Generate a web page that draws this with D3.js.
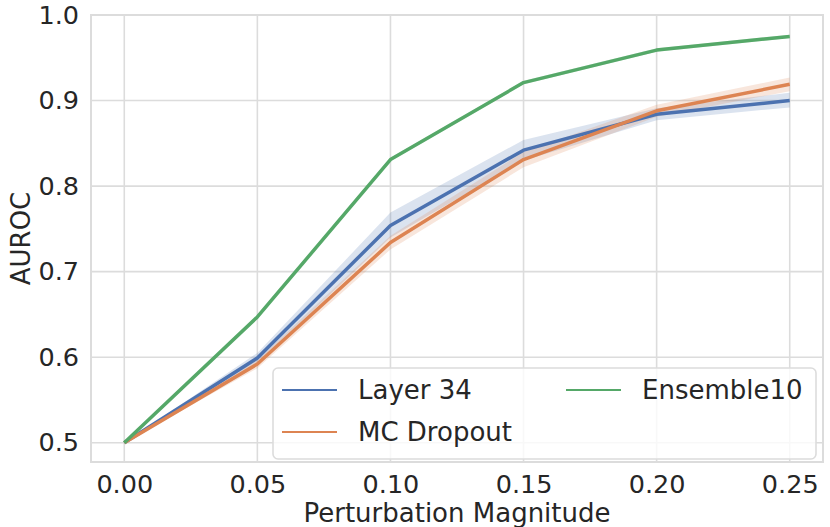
<!DOCTYPE html>
<html>
<head>
<meta charset="utf-8">
<script src="https://cdn.jsdelivr.net/npm/d3@7"></script>
<style>
  body { margin: 0; background: #fff; }
  svg text { font-family: "DejaVu Sans", sans-serif; fill: #262626; }
</style>
</head>
<body>
<div id="chart"></div>
<script>
// perturbation magnitudes on the x axis
const magnitudes = [0.00, 0.05, 0.10, 0.15, 0.20, 0.25];

// mean AUROC per method, with lower / upper band
const layer34 = [0.500, 0.599, 0.754, 0.842, 0.884, 0.900];
const layer34Lo = [0.500, 0.593, 0.740, 0.830, 0.877, 0.892];
const layer34Hi = [0.500, 0.605, 0.769, 0.854, 0.891, 0.909];

const mcDropout = [0.500, 0.592, 0.734, 0.831, 0.888, 0.919];
const mcDropoutLo = [0.500, 0.587, 0.726, 0.822, 0.881, 0.911];
const mcDropoutHi = [0.500, 0.597, 0.742, 0.840, 0.895, 0.927];

const ensemble10 = [0.500, 0.647, 0.831, 0.921, 0.959, 0.975];
const ensemble10Lo = [0.500, 0.645, 0.829, 0.919, 0.957, 0.973];
const ensemble10Hi = [0.500, 0.649, 0.833, 0.923, 0.961, 0.977];

const seriesNames = ["Layer 34", "MC Dropout", "Ensemble10"];
const seriesColors = ["#4C72B0", "#DD8452", "#55A868"];

const xTicks = [0.00, 0.05, 0.10, 0.15, 0.20, 0.25];
const yTicks = [0.5, 0.6, 0.7, 0.8, 0.9, 1.0];

const series = [
	{name: seriesNames[0], color: seriesColors[0], mean: layer34, lo: layer34Lo, hi: layer34Hi},
	{name: seriesNames[1], color: seriesColors[1], mean: mcDropout, lo: mcDropoutLo, hi: mcDropoutHi},
	{name: seriesNames[2], color: seriesColors[2], mean: ensemble10, lo: ensemble10Lo, hi: ensemble10Hi}
];

const W = 830, H = 527;
const margin = {top: 15, right: 7, bottom: 65, left: 91};
const width = W - margin.left - margin.right,
		height = H - margin.top - margin.bottom;

const svg = d3.select("#chart")
	.append("svg")
		.attr("width", W)
		.attr("height", H);

const g = svg.append("g")
	.attr("transform", `translate(${margin.left},${margin.top})`);

// X scale with matplotlib-style 5% padding
const x = d3.scaleLinear()
	.domain([-0.0125, 0.2625])
	.range([0, width]);

const y = d3.scaleLinear()
	.domain([0.4775, 1.0])
	.range([height, 0]);

const gridColor = "#dcdcdc";

// grid
g.append("g")
	.selectAll("line")
	.data(xTicks)
	.join("line")
		.attr("x1", d => x(d)).attr("x2", d => x(d))
		.attr("y1", 0).attr("y2", height)
		.attr("stroke", gridColor)
		.attr("stroke-width", 1.6);

g.append("g")
	.selectAll("line")
	.data(yTicks)
	.join("line")
		.attr("x1", 0).attr("x2", width)
		.attr("y1", d => y(d)).attr("y2", d => y(d))
		.attr("stroke", gridColor)
		.attr("stroke-width", 1.6);

// axes (no tick marks, only labels)
const xAxis = g.append("g")
	.attr("transform", `translate(0,${height})`)
	.call(d3.axisBottom(x).tickValues(xTicks).tickFormat(d3.format(".2f")).tickSize(0).tickPadding(13));
xAxis.select(".domain").remove();
xAxis.selectAll("text")
	.attr("font-size", "25.5px")
	.attr("font-family", "DejaVu Sans, sans-serif")
	.attr("fill", "#262626")
	.attr("dy", "0.71em");

const yAxis = g.append("g")
	.call(d3.axisLeft(y).tickValues(yTicks).tickFormat(d3.format(".1f")).tickSize(0).tickPadding(12));
yAxis.select(".domain").remove();
yAxis.selectAll("text")
	.attr("font-size", "25.5px")
	.attr("font-family", "DejaVu Sans, sans-serif")
	.attr("fill", "#262626");

// confidence bands
const area = d3.area()
	.x((d, i) => x(magnitudes[i]))
	.y0(d => y(d[0]))
	.y1(d => y(d[1]));

g.append("g")
	.selectAll("path")
	.data(series)
	.join("path")
		.attr("d", s => area(s.lo.map((v, i) => [v, s.hi[i]])))
		.attr("fill", s => s.color)
		.attr("fill-opacity", 0.2);

// mean lines
const line = d3.line()
	.x((d, i) => x(magnitudes[i]))
	.y(d => y(d));

g.append("g")
	.selectAll("path")
	.data(series)
	.join("path")
		.attr("d", s => line(s.mean))
		.attr("fill", "none")
		.attr("stroke", s => s.color)
		.attr("stroke-width", 3.5)
		.attr("stroke-linejoin", "round")
		.attr("stroke-linecap", "butt");

// frame
g.append("rect")
	.attr("width", width)
	.attr("height", height)
	.attr("fill", "none")
	.attr("stroke", gridColor)
	.attr("stroke-width", 2);

// legend
const legend = svg.append("g");
legend.append("rect")
	.attr("x", 273).attr("y", 368)
	.attr("width", 543).attr("height", 91)
	.attr("rx", 5)
	.attr("fill", "#fff")
	.attr("fill-opacity", 0.8)
	.attr("stroke", gridColor)
	.attr("stroke-width", 1.6);

const legendPos = [
	{lx: 282, ty: 390},
	{lx: 282, ty: 432},
	{lx: 566, ty: 390}
];

const items = legend.selectAll("g.item")
	.data(series)
	.join("g")
		.attr("class", "item")
		.attr("transform", (s, i) => `translate(${legendPos[i].lx},${legendPos[i].ty})`);

items.append("line")
	.attr("x1", 0).attr("x2", 55)
	.attr("stroke", s => s.color)
	.attr("stroke-width", 2);

items.append("text")
	.attr("x", 76)
	.attr("dy", "0.35em")
	.attr("font-size", "26px")
	.text(s => s.name);

// axis labels
svg.append("text")
	.attr("x", margin.left + width / 2)
	.attr("y", 522)
	.attr("text-anchor", "middle")
	.attr("font-size", "26px")
	.text("Perturbation Magnitude");

svg.append("text")
	.attr("transform", `translate(30,${margin.top + height / 2}) rotate(-90)`)
	.attr("text-anchor", "middle")
	.attr("font-size", "26px")
	.text("AUROC");
</script>
</body>
</html>
